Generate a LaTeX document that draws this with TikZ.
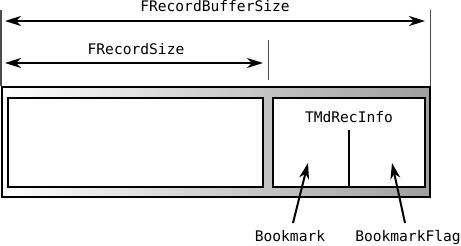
\documentclass[tikz,border=0pt]{standalone}
\usepackage{fontspec}
\setmonofont{DejaVu Sans Mono}
\usetikzlibrary{positioning,arrows.meta,calc}
\tikzset{
  buffer/.style={draw=black, line width=2pt, inner sep=0pt,
    left color=white, right color=black!38},
  field/.style={draw=black, line width=2pt, fill=white, inner sep=0pt},
  limitline/.style={line width=1pt, draw=black!70},
  dimline/.style={line width=2pt,
    {Stealth[length=16pt,width=10pt,inset=5pt]}-{Stealth[length=16pt,width=10pt,inset=5pt]}},
  pointer/.style={line width=2pt, -{Stealth[length=16pt,width=10pt,inset=5pt]}},
  code/.style={font=\ttfamily\fontsize{14.6}{16}\selectfont, inner sep=0pt, anchor=base}
}

\begin{document}
\begin{tikzpicture}[x=1pt,y=1pt]
  \useasboundingbox (0,0) rectangle (461,246);
  % record buffer
  \node[buffer, minimum width=428, minimum height=110] (buf) at (216,104) {};
  \node[field, minimum width=255, minimum height=89] (rec) at (135.5,103.5) {};
  \node[field, minimum width=152, minimum height=89] (info) at (349,103.5) {};
  \node[code] (infolbl) at (349,123) {TMdRecInfo};
  \coordinate (split) at (349,116);
  \draw[line width=2pt] (split) -- (split |- info.south);

  % size limits
  \coordinate (lt) at (1,236);
  \coordinate (rt) at (430,236);
  \coordinate (mt) at (268,206);
  \draw[limitline, line width=1.5pt] (lt) -- (lt |- buf.north);
  \draw[limitline] (rt) -- (rt |- buf.north);
  \draw[limitline] (mt) -- ($(mt |- buf.north)+(0,6)$);

  \coordinate (bufa) at (5,225);
  \coordinate (bufb) at (425,225);
  \draw[dimline, line width=2.4pt] (bufa) -- (bufb);
  \node[code] (buflbl) at (215,234) {FRecordBufferSize};

  \coordinate (reca) at (5,183);
  \coordinate (recb) at (263,183);
  \draw[dimline] (reca) -- (recb);
  \node[code] (reclbl) at (136,191) {FRecordSize};

  % fields
  \node[code] (bm) at (290,4) {Bookmark};
  \node[code] (bmf) at (408,4) {BookmarkFlag};
  \coordinate (bmtail) at (293,23);
  \coordinate (bmftail) at (405,23);
  \coordinate (bmtip) at (308,83);
  \coordinate (bmftip) at (392,83);
  \draw[pointer] (bmtail) -- (bmtip);
  \draw[pointer] (bmftail) -- (bmftip);
\end{tikzpicture}
\end{document}
